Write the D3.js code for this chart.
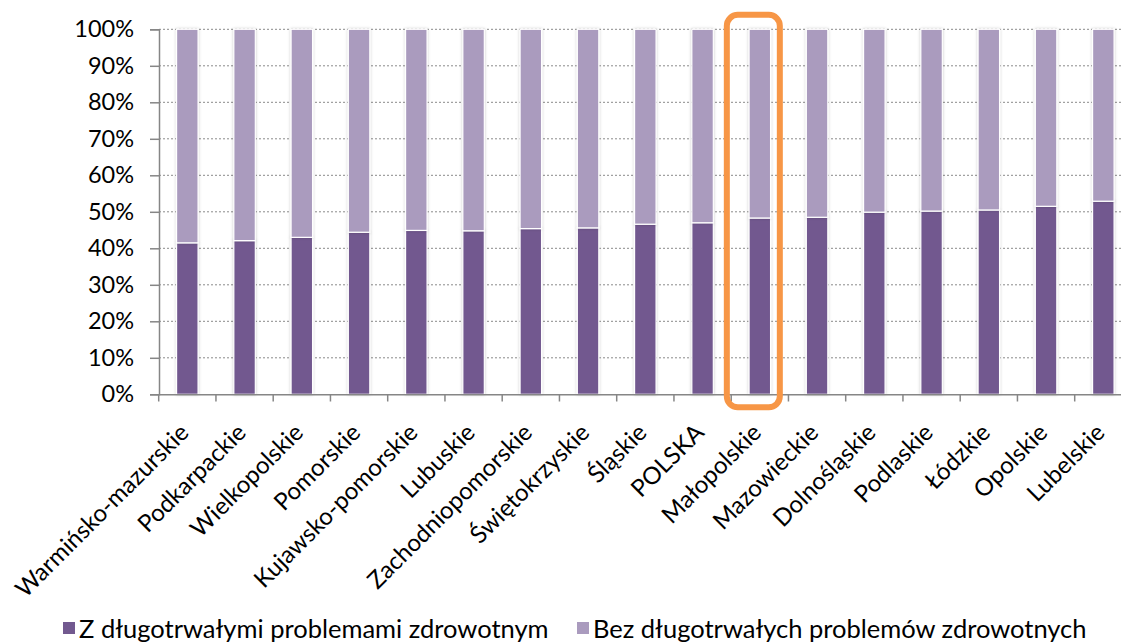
<!DOCTYPE html>
<html><head><meta charset="utf-8">
<script src="https://cdn.jsdelivr.net/npm/d3@7"></script>
<style>body{margin:0;background:#fff}svg{display:block}text{font-family:Lato,"Liberation Sans",sans-serif;fill:#000}</style>
</head><body><svg id="c" width="1121" height="643"></svg>
<script>
const categories = ["Warmińsko-mazurskie","Podkarpackie","Wielkopolskie","Pomorskie","Kujawsko-pomorskie","Lubuskie","Zachodniopomorskie","Świętokrzyskie","Śląskie","POLSKA","Małopolskie","Mazowieckie","Dolnośląskie","Podlaskie","Łódzkie","Opolskie","Lubelskie"];
const withProblems = [41.5,42.1,43.0,44.4,44.9,44.8,45.4,45.6,46.6,47.0,48.3,48.5,49.9,50.2,50.5,51.5,52.9];
const withoutProblems = withProblems.map(v => +(100 - v).toFixed(1));
const seriesNames = ["Z długotrwałymi problemami zdrowotnym","Bez długotrwałych problemów zdrowotnych"];
const yTicks = [0,10,20,30,40,50,60,70,80,90,100];
const highlighted = "Małopolskie";

const colors = ["#72598F","#AA9BBE"];
const svg = d3.select("#c");
const x = d3.scaleBand().domain(categories).range([158.7, 158.7 + 17*57.25]).padding(0);
const y = d3.scaleLinear().domain([0,100]).range([394.3, 29.3]);
const bw = 21.5;

const defs = svg.append("defs");
const f = defs.append("filter").attr("id","sh").attr("x","-50%").attr("y","-5%").attr("width","200%").attr("height","110%");
f.append("feDropShadow").attr("dx",0).attr("dy",0).attr("stdDeviation",1.6).attr("flood-color","#000").attr("flood-opacity",0.22);

// gridlines
svg.append("g").selectAll("line").data(yTicks.filter(d=>d>0)).join("line")
  .attr("x1",159).attr("x2",1121).attr("y1",d=>y(d)).attr("y2",d=>y(d))
  .attr("stroke","#8a8a8a").attr("stroke-width",1).attr("stroke-dasharray","2,2");

// bars
const stackData = categories.map((c,i)=>({cat:c, a:withProblems[i], b:withoutProblems[i]}));
const stack = d3.stack().keys(["a","b"])(stackData);
const gBars = svg.append("g");
stack.forEach((s,si)=>{
  gBars.append("g").selectAll("rect").data(s).join("rect")
    .attr("x",d=>x(d.data.cat)+x.bandwidth()/2-bw/2)
    .attr("width",bw)
    .attr("y",d=>y(d[1]))
    .attr("height",d=>y(d[0])-y(d[1]))
    .attr("fill",colors[si])
    .attr("stroke","#fff").attr("stroke-width",1.2)
    .attr("filter","url(#sh)");
});

// y axis
const yAxis = d3.axisLeft(y).tickValues(yTicks).tickFormat(d=>d+"%").tickSize(9).tickPadding(16);
const ga = svg.append("g").attr("transform","translate(159,0)").call(yAxis);
ga.select(".domain").attr("stroke","#868686").attr("stroke-width",1.5);
ga.selectAll(".tick line").attr("stroke","#868686").attr("stroke-width",1.5);
ga.selectAll(".tick text").attr("font-size",23.5).attr("font-family","Lato").attr("fill","#000");

// x axis
const xAxis = d3.axisBottom(x).tickSize(0).tickFormat("");
const gx = svg.append("g").attr("transform","translate(0,394.3)").call(xAxis);
gx.select(".domain").attr("stroke","#868686").attr("stroke-width",1.5);
const bounds = categories.map(c=>x(c)).concat([x.range()[1]]);
svg.append("g").selectAll("line").data(bounds).join("line")
  .attr("x1",d=>d).attr("x2",d=>d).attr("y1",394.3).attr("y2",401.5)
  .attr("stroke","#868686").attr("stroke-width",1.5);

svg.append("g").selectAll("text").data(categories).join("text")
  .attr("transform",d=>`translate(${x(d)+x.bandwidth()/2-3},428) rotate(-45)`)
  .attr("text-anchor","end").attr("dy","0.35em")
  .attr("font-size",24).text(d=>d);

// highlight box
const hx = x(highlighted)+x.bandwidth()/2;
svg.append("rect").attr("x",hx-33).attr("y",y(100)-14.5).attr("width",53).attr("height",(y(0)+13)-(y(100)-14.5))
  .attr("rx",11).attr("fill","none").attr("stroke","#F79646").attr("stroke-width",6);

// legend
const lg = svg.append("g");
const lx = [63,577];
seriesNames.forEach((n,i)=>{
  lg.append("rect").attr("x",lx[i]).attr("y",622).attr("width",12).attr("height",12).attr("fill",colors[i]);
  lg.append("text").attr("x",lx[i]+16).attr("y",637.5).attr("font-size",25.5).text(n);
});
</script></body></html>
